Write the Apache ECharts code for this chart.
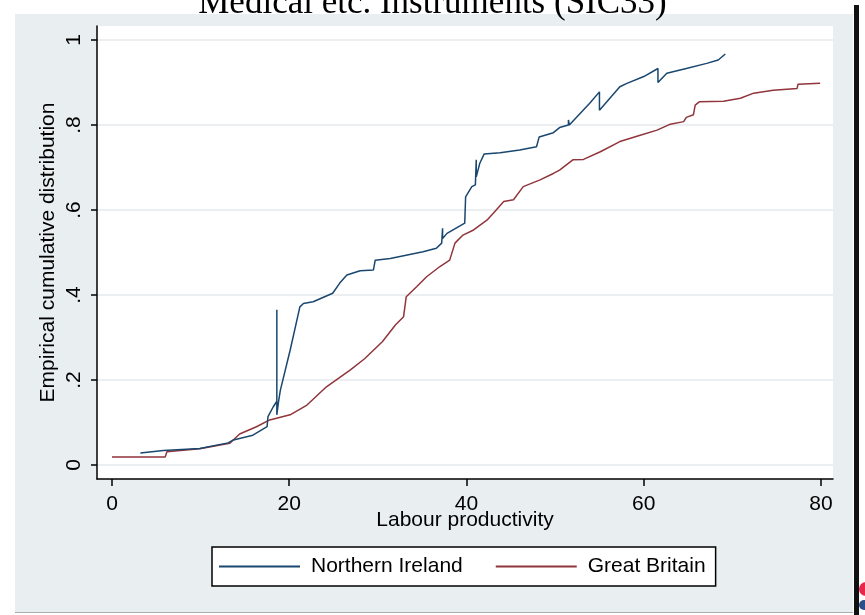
<!DOCTYPE html>
<html>
<head>
<meta charset="utf-8">
<script src="https://cdn.jsdelivr.net/npm/echarts@6/dist/echarts.min.js"></script>
<style>
  html, body { margin: 0; padding: 0; background: #ffffff; }
  #bg { position: absolute; left: 15px; top: 14px; width: 838px; height: 598px; background: #e9eff1; border-bottom: 1px solid #a9aeb0; }
  #bar { position: absolute; left: 854px; top: 5px; width: 5px; height: 610px; background: #111111; }
  #dot { position: absolute; left: 859px; top: 582px; width: 14px; height: 14px; border-radius: 7px; background: #e8254a; }
  #dot2 { position: absolute; left: 859px; top: 600px; width: 14px; height: 10px; border-radius: 5px; background: #2a4f8a; }
  #chart { position: absolute; left: 0; top: 0; width: 865px; height: 615px; }
</style>
</head>
<body>
<div id="bg"></div>
<div id="bar"></div>
<div id="dot"></div>
<div id="dot2"></div>
<div id="chart"></div>
<script>
// ---- data ----
const titleText = 'Medical etc. Instruments (SIC33)';
const xTicks = [0, 20, 40, 60, 80];
const yTicks = [0, 0.2, 0.4, 0.6, 0.8, 1];
const seriesNames = ['Northern Ireland', 'Great Britain'];

const niProductivity = [3.2, 5.8, 9.9, 13.1, 13.7, 15.9, 17.5, 17.6, 18.2, 18.6, 18.6, 18.6, 18.8, 19.0, 20.1, 21.2, 21.6, 22.7, 24.9, 25.7, 26.5, 28.0, 29.5, 29.7, 31.4, 35.1, 36.6, 37.2, 37.3, 37.3, 37.8, 39.8, 39.9, 40.6, 41.0, 41.1, 41.1, 41.5, 42.0, 43.8, 46.0, 47.9, 48.2, 49.8, 50.5, 51.5, 51.5, 51.6, 53.9, 55.0, 55.0, 57.3, 58.1, 60.0, 61.6, 61.6, 62.6, 64.8, 67.1, 68.4, 69.2];
const niCdf = [0.028, 0.034, 0.039, 0.052, 0.059, 0.070, 0.090, 0.114, 0.137, 0.150, 0.365, 0.118, 0.150, 0.176, 0.270, 0.372, 0.380, 0.384, 0.404, 0.428, 0.447, 0.457, 0.459, 0.482, 0.486, 0.502, 0.510, 0.522, 0.557, 0.533, 0.545, 0.569, 0.631, 0.655, 0.659, 0.718, 0.678, 0.710, 0.732, 0.735, 0.741, 0.749, 0.772, 0.782, 0.794, 0.800, 0.812, 0.800, 0.851, 0.878, 0.835, 0.890, 0.898, 0.914, 0.933, 0.900, 0.922, 0.933, 0.945, 0.953, 0.967];

const gbProductivity = [0, 6.0, 6.2, 9.9, 13.3, 14.4, 16.3, 17.8, 20.1, 22.0, 24.2, 26.9, 28.5, 30.5, 32.0, 32.9, 33.2, 34.4, 35.5, 37.0, 38.1, 38.7, 39.6, 40.8, 42.3, 43.0, 44.2, 45.3, 46.4, 48.3, 49.8, 50.5, 52.0, 53.2, 55.1, 57.3, 59.6, 61.5, 63.0, 64.5, 64.8, 65.6, 65.8, 66.3, 69.0, 70.9, 72.4, 74.6, 77.3, 77.4, 79.9];
const gbCdf = [0.019, 0.019, 0.031, 0.038, 0.051, 0.073, 0.090, 0.106, 0.118, 0.141, 0.184, 0.224, 0.250, 0.290, 0.330, 0.349, 0.396, 0.420, 0.443, 0.467, 0.482, 0.522, 0.541, 0.553, 0.576, 0.592, 0.620, 0.624, 0.655, 0.671, 0.686, 0.694, 0.718, 0.719, 0.737, 0.761, 0.776, 0.788, 0.802, 0.808, 0.818, 0.824, 0.847, 0.855, 0.856, 0.863, 0.875, 0.882, 0.886, 0.896, 0.898];

const zip = (xs, ys) => xs.map((x, i) => [x, ys[i]]);
const fmtY = v => (v === 0 ? '0' : v === 1 ? '1' : String(+v.toFixed(1)).replace(/^0/, ''));

const chart = echarts.init(document.getElementById('chart'), null, { renderer: 'canvas' });
const font = 'Liberation Sans';
chart.setOption({
  backgroundColor: 'transparent',
  animation: false,
  title: {
    text: titleText,
    left: 'center',
    top: 0,
    padding: 0,
    textStyle: { fontFamily: 'Liberation Serif', fontSize: 35, lineHeight: 8, fontWeight: 'normal', color: '#000' }
  },
  grid: {
    left: 97, right: 32, top: 26, bottom: 136,
    show: true, backgroundColor: '#ffffff', borderWidth: 0
  },
  xAxis: {
    type: 'value',
    min: -1.69, max: 81.35,
    name: 'Labour productivity',
    nameLocation: 'middle',
    nameGap: 31,
    nameMoveOverlap: false,
    nameTextStyle: { fontFamily: font, fontSize: 21, color: '#000' },
    axisLine: { show: true, onZero: false, lineStyle: { color: '#000', width: 1.5 } },
    axisTick: { show: true, length: 7, customValues: xTicks, lineStyle: { color: '#000', width: 1.5 } },
    axisLabel: { customValues: xTicks, margin: 15, fontFamily: font, fontSize: 21, color: '#000' },
    splitLine: { show: false }
  },
  yAxis: {
    type: 'value',
    min: -0.033, max: 1.033,
    name: 'Empirical cumulative distribution',
    nameLocation: 'middle',
    nameGap: 38,
    nameMoveOverlap: false,
    nameTextStyle: { fontFamily: font, fontSize: 21, color: '#000' },
    axisLine: { show: true, onZero: false, lineStyle: { color: '#000', width: 1.5 } },
    axisTick: { show: true, length: 6, customValues: yTicks, lineStyle: { color: '#000', width: 1.5 } },
    axisLabel: { customValues: yTicks, rotate: 90, margin: 12, fontFamily: font, fontSize: 21, color: '#000', formatter: fmtY },
    splitLine: { show: true, lineStyle: { color: '#e6eaec', width: 1.5 } }
  },
  legend: {
    data: seriesNames,
    left: 212, top: 547,
    padding: [9, 10, 9, 7],
    backgroundColor: '#ffffff',
    borderColor: '#000', borderWidth: 1.5,
    icon: 'rect',
    itemWidth: 81, itemHeight: 2, itemGap: 33,
    textStyle: { fontFamily: font, fontSize: 21, color: '#000', padding: [0, 0, 0, 6] }
  },
  series: [
    {
      name: seriesNames[0], type: 'line', symbol: 'none',
      data: zip(niProductivity, niCdf),
      lineStyle: { color: '#1a476f', width: 1.5 }, itemStyle: { color: '#1a476f' }, z: 3
    },
    {
      name: seriesNames[1], type: 'line', symbol: 'none',
      data: zip(gbProductivity, gbCdf),
      lineStyle: { color: '#90353b', width: 1.5 }, itemStyle: { color: '#90353b' }, z: 2
    }
  ]
});
</script>
</body>
</html>
